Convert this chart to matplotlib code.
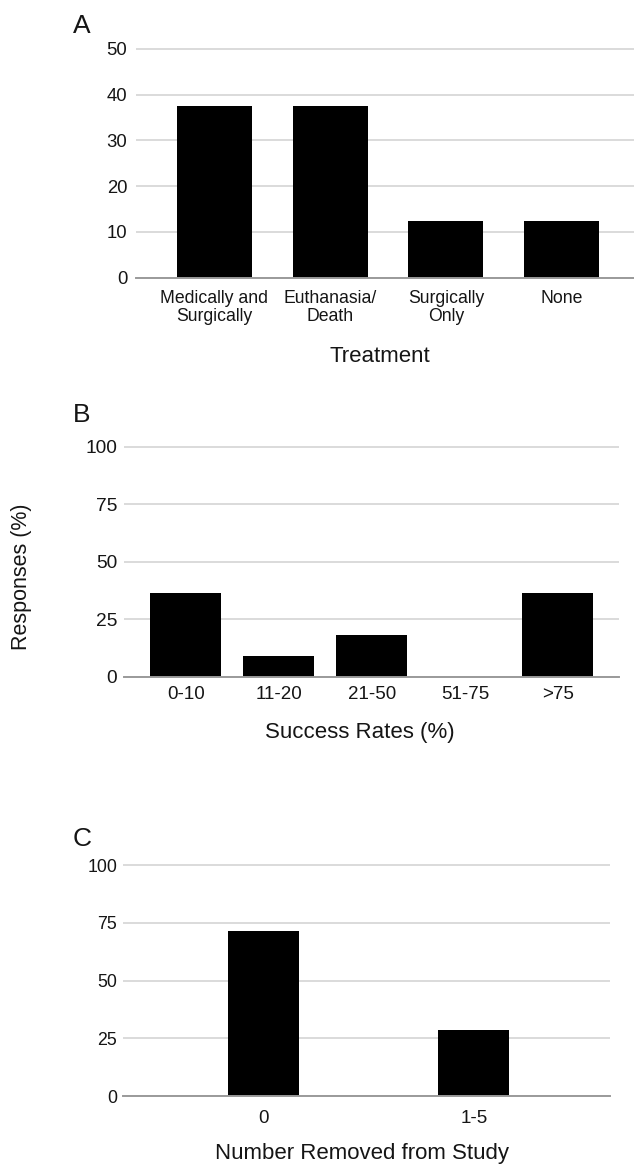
import matplotlib
matplotlib.use("Agg")
import matplotlib.pyplot as plt

plt.rcParams["font.family"] = ["Liberation Sans", "DejaVu Sans"]

# Panel A: treatment outcome
treatment_labels = ["Medically and\nSurgically", "Euthanasia/\nDeath", "Surgically\nOnly", "None"]
treatment_values = [37.5, 37.5, 12.5, 12.5]
treatment_ticks = [0, 10, 20, 30, 40, 50]

# Panel B: reported success rates
success_labels = ["0-10", "11-20", "21-50", "51-75", ">75"]
success_values = [36.4, 9.1, 18.2, 0.0, 36.4]
success_ticks = [0, 25, 50, 75, 100]

# Panel C: animals removed from study
removed_labels = ["0", "1-5"]
removed_values = [71.4, 28.6]
removed_ticks = [0, 25, 50, 75, 100]

W, H = 634, 1164
fig = plt.figure(figsize=(W / 100, H / 100), dpi=100)

TEXT = "#151515"
GRID = "#d4d4d4"
AXIS = "#9a9a9a"


def add_panel(left, right, bottom, top):
    return fig.add_axes([left / W, 1 - bottom / H, (right - left) / W, (bottom - top) / H])


def style(ax, ticks, ymax, xpad, ypad, tick_size, xtick_size):
    ax.set_ylim(0, ymax)
    ax.set_yticks(ticks)
    ax.yaxis.grid(True, color=GRID, linewidth=1.2)
    ax.set_axisbelow(True)
    for s in ("top", "right", "left"):
        ax.spines[s].set_visible(False)
    ax.spines["bottom"].set_color(AXIS)
    ax.spines["bottom"].set_linewidth(1.4)
    ax.tick_params(axis="y", length=0, pad=ypad, labelsize=tick_size, labelcolor=TEXT)
    ax.tick_params(axis="x", length=0, pad=xpad, labelsize=xtick_size, labelcolor=TEXT)


# ---- Panel A ----
axA = add_panel(136, 634, 277.7, 44.4)
xa = range(len(treatment_values))
axA.bar(xa, treatment_values, width=0.648, color="black")
axA.set_xticks(list(xa))
axA.set_xticklabels(treatment_labels, linespacing=1.1)
axA.set_xlim(-0.675, 3.624)
style(axA, treatment_ticks, 51, 8.6, 6.3, 13.3, 12.7)

# ---- Panel B ----
axB = add_panel(124, 619.3, 676.7, 442.4)
xb = range(len(success_values))
axB.bar(xb, success_values, width=0.763, color="black")
axB.set_xticks(list(xb))
axB.set_xticklabels(success_labels)
axB.set_xlim(-0.665, 4.661)
style(axB, success_ticks, 102, 7.0, 4.8, 13.8, 13.5)

# ---- Panel C ----
axC = add_panel(123.3, 610, 1096.3, 860.4)
xc = range(len(removed_values))
axC.bar(xc, removed_values, width=0.337, color="black")
axC.set_xticks(list(xc))
axC.set_xticklabels(removed_labels)
axC.set_xlim(-0.665, 1.647)
style(axC, removed_ticks, 102, 9.6, 4.3, 12.8, 13.5)

# Axis titles
fig.text(379.7 / W, 1 - 361.7 / H, "Treatment", ha="center", va="baseline", fontsize=16, color=TEXT)
fig.text(359.7 / W, 1 - 738.3 / H, "Success Rates (%)", ha="center", va="baseline", fontsize=16, color=TEXT)
fig.text(362 / W, 1 - 1159.3 / H, "Number Removed from Study", ha="center", va="baseline", fontsize=16, color=TEXT)
fig.text(21.7 / W, 1 - 577 / H, "Responses (%)", ha="center", va="center", rotation=90, fontsize=15.5, color=TEXT)

# Panel letters
for letter, x, y in (("A", 72.7, 33.3), ("B", 72.7, 422), ("C", 73, 846)):
    fig.text(x / W, 1 - y / H, letter, ha="left", va="baseline", fontsize=19, color=TEXT)

fig.savefig("out.png", dpi=100, facecolor="white")
